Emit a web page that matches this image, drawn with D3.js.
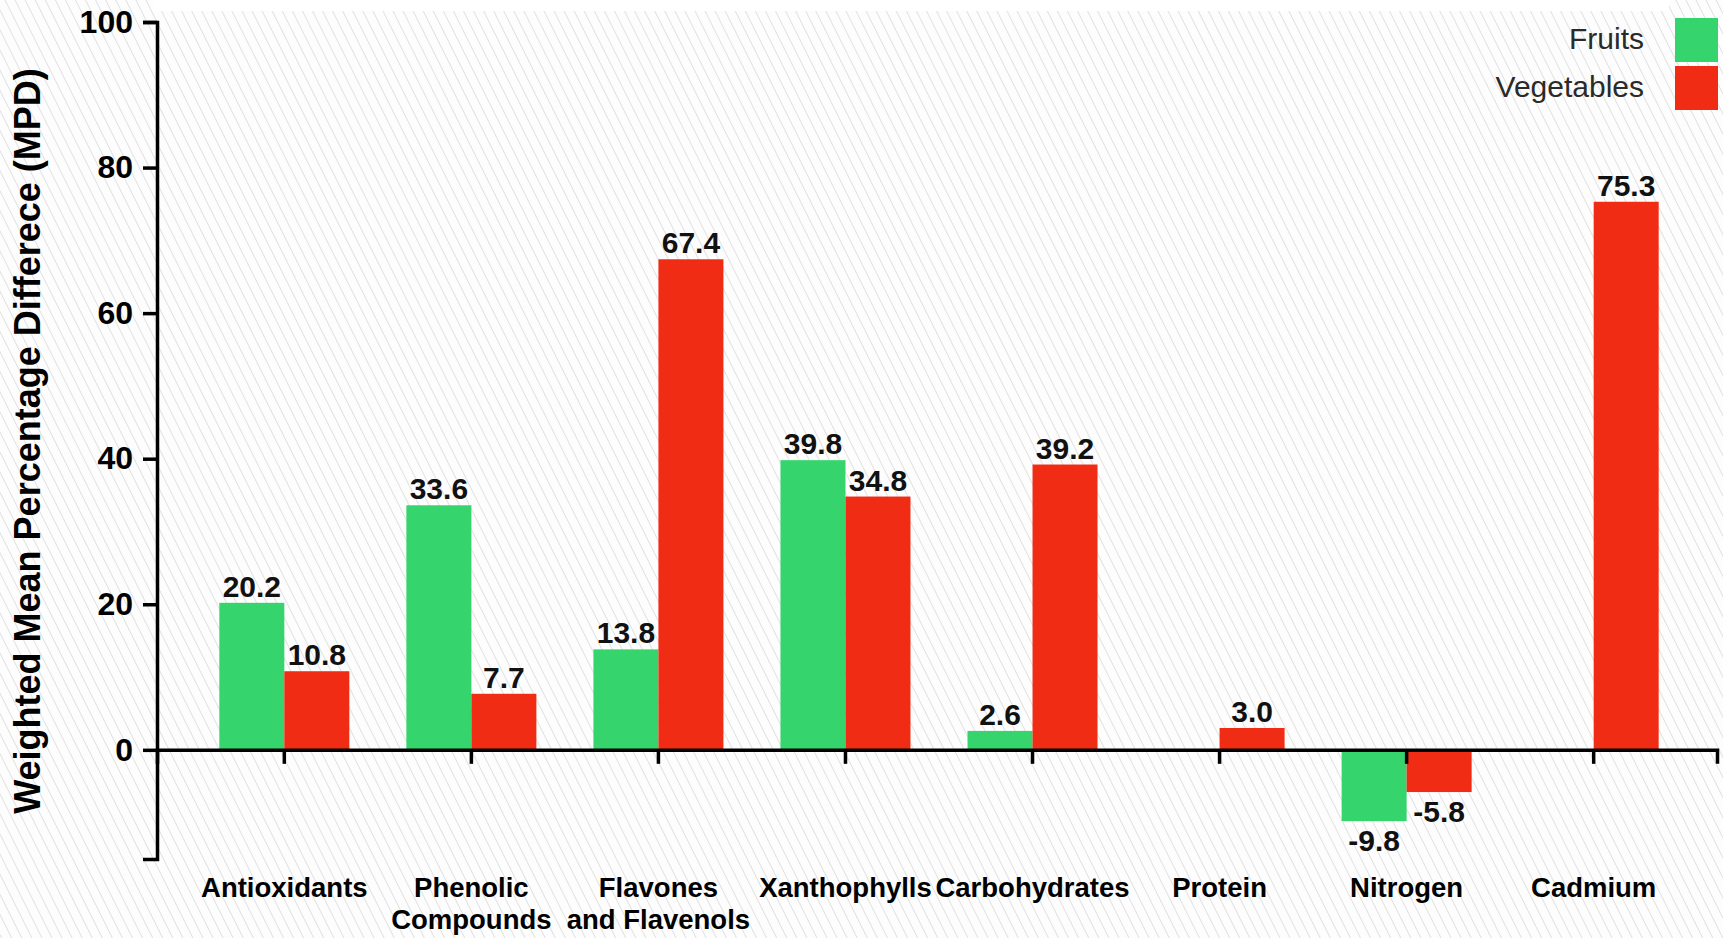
<!DOCTYPE html>
<html>
<head>
<meta charset="utf-8">
<script src="https://cdn.jsdelivr.net/npm/d3@7"></script>
<style>
  html, body { margin: 0; padding: 0; background: #ffffff; }
  svg { display: block; }
  text { font-family: "Liberation Sans", Arial, sans-serif; }
</style>
</head>
<body>
<svg id="chart" width="1723" height="938"></svg>
<script>
// ---- data ----
const categories = ["Antioxidants", "Phenolic Compounds", "Flavones and Flavenols", "Xanthophylls", "Carbohydrates", "Protein", "Nitrogen", "Cadmium"];
const categoryLines = [["Antioxidants"], ["Phenolic", "Compounds"], ["Flavones", "and Flavenols"], ["Xanthophylls"], ["Carbohydrates"], ["Protein"], ["Nitrogen"], ["Cadmium"]];
const seriesNames = ["Fruits", "Vegetables"];
const fruits = [20.2, 33.6, 13.8, 39.8, 2.6, null, -9.8, null];
const vegetables = [10.8, 7.7, 67.4, 34.8, 39.2, 3.0, -5.8, 75.3];
const yTicks = [0, 20, 40, 60, 80, 100];
const yDomain = [-15, 100];
const yTitle = "Weighted Mean Percentage Differece (MPD)";
const colors = { Fruits: "#35d46d", Vegetables: "#f12c14" };

const svg = d3.select("#chart");
const W = 1723, H = 938;

// ---- background hatch ----
const defs = svg.append("defs");
const pat = defs.append("pattern")
  .attr("id", "hatch").attr("patternUnits", "userSpaceOnUse")
  .attr("width", 9).attr("height", 9)
  .attr("patternTransform", "rotate(-26.6)");
pat.append("rect").attr("width", 9).attr("height", 9).attr("fill", "#fdfdfd");
pat.append("line").attr("x1", 4.5).attr("x2", 4.5).attr("y1", 0).attr("y2", 9)
  .attr("stroke", "#e1e1e1").attr("stroke-width", 1);
svg.append("rect").attr("width", W).attr("height", H).attr("fill", "url(#hatch)");
svg.append("rect").attr("x", 153).attr("y", 0).attr("width", 1516).attr("height", 11).attr("fill", "#ffffff");

// ---- scales ----
const x = d3.scaleBand().domain(categories).range([159, 1719]).paddingInner(0).paddingOuter(0.17);
const groupW = x.bandwidth() * 0.695;
const x1 = d3.scaleBand().domain(seriesNames).range([0, groupW]).padding(0);
const y = d3.scaleLinear().domain(yDomain).range([859, 22]);

const rows = [];
categories.forEach((c, i) => {
  rows.push({ cat: c, series: "Fruits", v: fruits[i] });
  rows.push({ cat: c, series: "Vegetables", v: vegetables[i] });
});
const data = rows.filter(d => d.v !== null);

const bx = d => x(d.cat) + (x.bandwidth() - groupW) / 2 + x1(d.series);

// ---- bars ----
svg.append("g").selectAll("rect").data(data).join("rect")
  .attr("x", bx)
  .attr("width", x1.bandwidth())
  .attr("y", d => d.v >= 0 ? y(d.v) : y(0))
  .attr("height", d => Math.abs(y(d.v) - y(0)))
  .attr("fill", d => colors[d.series]);

// ---- value labels ----
svg.append("g").selectAll("text").data(data).join("text")
  .attr("x", d => bx(d) + x1.bandwidth() / 2)
  .attr("y", d => d.v >= 0 ? y(d.v) - 6 : y(d.v) + 30)
  .attr("text-anchor", "middle")
  .attr("font-size", 30).attr("font-weight", "bold").attr("fill", "#111")
  .text(d => d.v.toFixed(1));

// ---- axes ----
const yAxis = svg.append("g").attr("transform", "translate(157,0)")
  .call(d3.axisLeft(y).tickValues(yTicks).tickSize(14).tickSizeOuter(14).tickPadding(10).tickFormat(d3.format("d")));
yAxis.select(".domain").attr("stroke", "#000").attr("stroke-width", 3.5);
yAxis.selectAll(".tick line").attr("stroke", "#000").attr("stroke-width", 3.5);
yAxis.selectAll(".tick text").attr("font-size", 32).attr("font-weight", "bold").attr("fill", "#000")
  .attr("font-family", "'Liberation Sans', Arial, sans-serif");

const xAxis = svg.append("g").attr("transform", `translate(0,${y(0)})`)
  .call(d3.axisBottom(x.copy().range([157, 1717])).tickSize(14).tickSizeOuter(14).tickFormat(""));
xAxis.selectAll(".tick").attr("transform", d => `translate(${x(d) + x.bandwidth() / 2},0)`);
xAxis.select(".domain").attr("stroke", "#000").attr("stroke-width", 3.5);
xAxis.selectAll(".tick line").attr("stroke", "#000").attr("stroke-width", 3.5);

// ---- category labels ----
const catG = svg.append("g");
categories.forEach((c, i) => {
  const t = catG.append("text")
    .attr("x", x(c) + x.bandwidth() / 2).attr("y", 897)
    .attr("text-anchor", "middle").attr("font-size", 27.5).attr("font-weight", "bold").attr("fill", "#000");
  categoryLines[i].forEach((ln, j) => {
    t.append("tspan").attr("x", x(c) + x.bandwidth() / 2).attr("dy", j === 0 ? 0 : 32).text(ln);
  });
});

// ---- y title ----
svg.append("text")
  .attr("transform", "translate(40,441) rotate(-90)")
  .attr("text-anchor", "middle").attr("font-size", 36).attr("font-weight", "bold").attr("fill", "#000")
  .text(yTitle);

// ---- legend ----
const lg = svg.append("g");
seriesNames.forEach((s, i) => {
  lg.append("rect").attr("x", 1675).attr("y", 18 + i * 48).attr("width", 43).attr("height", 44)
    .attr("fill", colors[s]);
  lg.append("text").attr("x", 1644).attr("y", 49 + i * 48)
    .attr("text-anchor", "end").attr("font-size", 30).attr("fill", "#2a2a2a").text(s);
});
</script>
</body>
</html>
